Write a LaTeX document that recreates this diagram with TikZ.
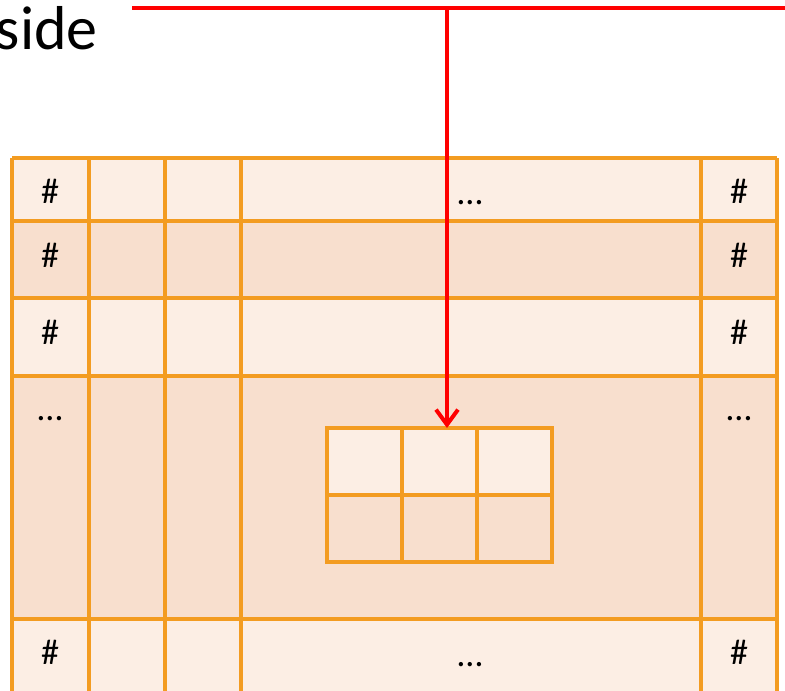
\documentclass[tikz,border=0pt]{standalone}
\usepackage{fontspec}
\setmainfont{Carlito}
\usetikzlibrary{arrows.meta}
\definecolor{lightc}{RGB}{252,238,228}
\definecolor{darkc}{RGB}{248,223,206}
\definecolor{gridc}{RGB}{243,156,33}
\definecolor{redc}{RGB}{255,0,0}
\begin{document}
\begin{tikzpicture}[x=1pt,y=-1pt,
  gridline/.style={draw=gridc,line width=3.2pt},
  celltxt/.style={font=\fontsize{36}{40}\selectfont,inner sep=0pt,anchor=base},
  redline/.style={draw=redc,line width=4.4pt},
  arr/.style={-{Straight Barb[length=15pt,width=22pt,line width=4pt]}}]
\useasboundingbox (0,0) rectangle (785,691);
% row fills
\fill[lightc] (12,158) rectangle (777,221);
\fill[darkc] (12,221) rectangle (777,298);
\fill[lightc] (12,298) rectangle (777,376);
\fill[darkc] (12,376) rectangle (777,619);
\fill[lightc] (12,619) rectangle (777,700);
% grid lines
\foreach \y in {158,221,298,376,619}
  \draw[gridline] (12,\y) -- (777,\y);
\foreach \x in {12,89,165,241,701,777}
  \draw[gridline] (\x,158) -- (\x,700);
% inner table
\fill[lightc] (327,428) rectangle (552,495);
\fill[darkc] (327,495) rectangle (552,562);
\draw[gridline] (327,428) rectangle (552,562);
\draw[gridline] (327,495) -- (552,495);
\draw[gridline] (402,428) -- (402,562);
\draw[gridline] (477,428) -- (477,562);
\coordinate (innertop) at (447,428);
% texts
\node[celltxt] (h1) at (50,203) {\#};
\node[celltxt] (h2) at (50,267) {\#};
\node[celltxt] (h3) at (50,344) {\#};
\node[celltxt] (d4) at (50,420) {\dots};
\node[celltxt] (h5) at (50,664) {\#};
\node[celltxt] (r1) at (739,203) {\#};
\node[celltxt] (r2) at (739,267) {\#};
\node[celltxt] (r3) at (739,344) {\#};
\node[celltxt] (rd4) at (739,420) {\dots};
\node[celltxt] (r5) at (739,664) {\#};
\node[celltxt] (m1) at (470,204) {\dots};
\node[celltxt] (m5) at (470,666) {\dots};
\node[font=\fontsize{62}{70}\selectfont,inner sep=0pt,anchor=base east] (side) at (98,49) {side};
% red connector
\coordinate (lstart) at (132,8);
\coordinate (lend) at (790,8);
\coordinate (tee) at (447,8);
\draw[redline] (lstart) -- (lend);
\draw[redline,arr] (tee) -- (innertop);
\end{tikzpicture}
\end{document}
